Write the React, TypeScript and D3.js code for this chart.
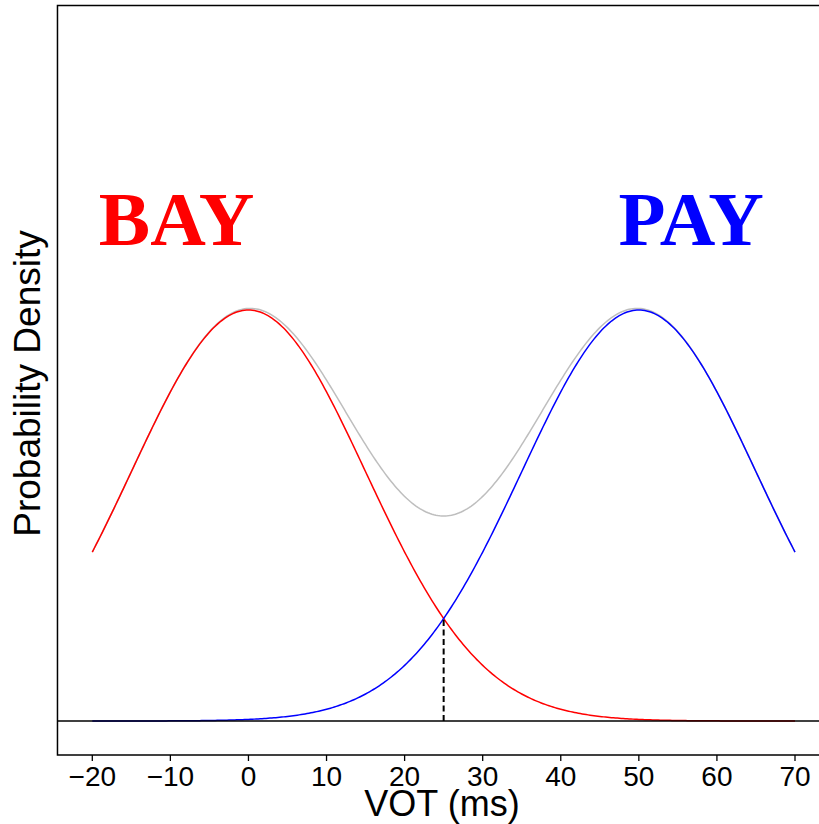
import React from "react";
import * as d3 from "d3";

// Category distributions of voice onset time (ms)
const categories = ["BAY", "PAY"];
const categoryColors = ["#ff0000", "#0000ff"];
const means = [0, 50];
const sds = [15, 15];
const labelPositions = [-9.2, 56.7];
const boundary = 25;
const xTicks = [-20, -10, 0, 10, 20, 30, 40, 50, 60, 70];
const xRange = [-20, 70];

const W = 819;
const H = 824;

function dnorm(x: number, m: number, s: number) {
  const z = (x - m) / s;
  return Math.exp(-0.5 * z * z) / (s * Math.sqrt(2 * Math.PI));
}

export default function App() {
  const x = d3.scaleLinear().domain(xRange).range([92.3, 795]);
  const peak = dnorm(0, 0, sds[0]);
  const y = d3.scaleLinear().domain([0, peak]).range([721, 310]);

  const xs = d3.range(xRange[0], xRange[1] + 0.0001, 0.25);
  const line = d3
    .line<[number, number]>()
    .x((d) => x(d[0]))
    .y((d) => y(d[1]));

  const curves = categories.map((_, i) =>
    xs.map((v) => [v, dnorm(v, means[i], sds[i])] as [number, number])
  );
  const total = xs.map(
    (v) => [v, d3.sum(categories, (_, i) => dnorm(v, means[i], sds[i]))] as [number, number]
  );

  const frameLeft = x(-24.46);
  const frameRight = x(74);
  const frameTop = 5.5;
  const frameBottom = 755;
  const crossY = y(dnorm(boundary, means[0], sds[0]));

  return (
    <svg
      width={W}
      height={H}
      style={{ position: "absolute", left: 0, top: 0, background: "#fff" }}
      fontFamily="'Liberation Sans', Arial, Helvetica, sans-serif"
    >
      <rect x={0} y={0} width={W} height={H} fill="#fff" />
      {/* combined density */}
      <path d={line(total) ?? ""} fill="none" stroke="#bebebe" strokeWidth={1.5} />
      {curves.map((c, i) => (
        <path key={categories[i]} d={line(c) ?? ""} fill="none" stroke={categoryColors[i]} strokeWidth={1.5} />
      ))}
      {/* zero line */}
      <line x1={frameLeft} x2={frameRight} y1={y(0)} y2={y(0)} stroke="#000" strokeWidth={1.3} />
      {/* category boundary */}
      <line
        x1={x(boundary)}
        x2={x(boundary)}
        y1={y(0)}
        y2={crossY}
        stroke="#000"
        strokeWidth={2}
        strokeDasharray="6,3.5"
      />
      {/* frame */}
      <rect
        x={frameLeft}
        y={frameTop}
        width={frameRight - frameLeft}
        height={frameBottom - frameTop}
        fill="none"
        stroke="#000"
        strokeWidth={1.5}
      />
      {/* x axis ticks */}
      {xTicks.map((t) => (
        <g key={t}>
          <line x1={x(t)} x2={x(t)} y1={frameBottom} y2={frameBottom + 6} stroke="#000" strokeWidth={1.3} />
          <text x={x(t)} y={785.5} fontSize={28} textAnchor="middle" fill="#000">
            {t < 0 ? "\u2212" + Math.abs(t) : String(t)}
          </text>
        </g>
      ))}
      <text x={442} y={816} fontSize={36} textAnchor="middle" fill="#000">
        VOT (ms)
      </text>
      <text
        transform={`translate(40,383.5) rotate(-90)`}
        fontSize={37}
        textAnchor="middle"
        fill="#000"
      >
        Probability Density
      </text>
      {categories.map((c, i) => (
        <text
          key={c}
          x={x(labelPositions[i])}
          y={245}
          fontSize={77}
          fontWeight="bold"
          fontFamily="'Liberation Serif', 'Times New Roman', serif"
          textAnchor="middle"
          fill={categoryColors[i]}
        >
          {c}
        </text>
      ))}
    </svg>
  );
}
